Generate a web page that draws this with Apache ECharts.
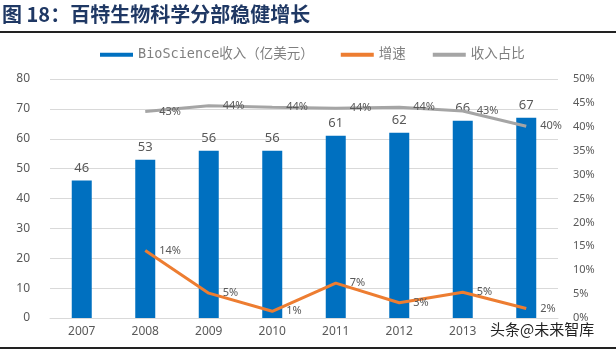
<!DOCTYPE html>
<html>
<head>
<meta charset="utf-8">
<script src="https://cdn.jsdelivr.net/npm/echarts@6/dist/echarts.min.js"></script>
<style>
  html, body { margin: 0; padding: 0; background: #fff; }
  #chart { width: 616px; height: 351px; }
</style>
</head>
<body>
<div id="chart"></div>
<script>
// 年份
const years = ['2007', '2008', '2009', '2010', '2011', '2012', '2013', '2014']
// BioScience收入（亿美元）
const revenue = [46, 53, 56, 56, 61, 62, 66, 67]
// 增速 (%)
const growth = [null, 14.1, 5.2, 1.4, 7.3, 3.2, 5.4, 2.0]
// 收入占比 (%)
const share = [null, 43.2, 44.4, 44.1, 43.9, 44.1, 43.3, 40.1]

const leftTicks = [0, 10, 20, 30, 40, 50, 60, 70, 80]
const rightTicks = [0, 5, 10, 15, 20, 25, 30, 35, 40, 45, 50]

const textGray = '#595959'
const font = "'Noto Sans', 'Noto Sans CJK SC', sans-serif"

const myChart = echarts.init(document.getElementById('chart'))

// 折线数据标签
function pctLabel() {
    return {
        show: true,
        position: 'right',
        distance: 14,
        color: textGray,
        fontSize: 11,
        formatter: function (p) {
            return Math.round(p.value) + '%'
        }
    }
}

const option = {
    animation: false,
    textStyle: {fontFamily: font},
    graphic: [
        {
            type: 'text',
            left: 2,
            top: 4,
            style: {
                text: '图 18：百特生物科学分部稳健增长',
                fontSize: 20,
                fontWeight: 'bold',
                fill: '#1F3864',
                fontFamily: "'Noto Sans CJK SC', sans-serif"
            }
        },
        {
            type: 'rect',
            shape: {x: 0, y: 31, width: 616, height: 2},
            style: {fill: '#222'}
        },
        {
            type: 'rect',
            shape: {x: 0, y: 347, width: 616, height: 2},
            style: {fill: '#222'}
        },
        {
            type: 'text',
            left: 490,
            top: 322,
            style: {
                text: '头条@未来智库',
                fontSize: 15,
                fill: '#222',
                fontFamily: "'Noto Sans CJK SC', sans-serif"
            }
        }
    ],
    legend: {
        top: 43,
        left: 95,
        icon: 'rect',
        itemWidth: 33,
        itemHeight: 4,
        itemGap: 27,
        textStyle: {color: '#7F7F7F', fontSize: 13.5, fontFamily: "'DejaVu Sans Mono', 'Noto Sans CJK SC', monospace"},
        data: ['BioScience收入（亿美元）', '增速', '收入占比']
    },
    grid: {
        left: 50,
        right: 58,
        top: 79,
        bottom: 33,
        containLabel: false
    },
    xAxis: {
        type: 'category',
        data: years,
        axisLine: {lineStyle: {color: '#D9D9D9'}},
        axisTick: {show: false},
        axisLabel: {
            color: textGray,
            fontSize: 12,
            margin: 8,
            interval: function (i) {
                return i < 7
            }
        }
    },
    yAxis: [
        {
            type: 'value',
            min: leftTicks[0],
            max: leftTicks[leftTicks.length - 1],
            interval: 10,
            axisLine: {show: false},
            axisTick: {show: false},
            axisLabel: {color: textGray, fontSize: 12, margin: 20},
            splitLine: {lineStyle: {color: '#D9D9D9'}}
        },
        {
            type: 'value',
            min: rightTicks[0],
            max: rightTicks[rightTicks.length - 1],
            interval: 5,
            axisLine: {show: false},
            axisTick: {show: false},
            axisLabel: {color: textGray, fontSize: 11, margin: 15, formatter: '{value}%'},
            splitLine: {show: false}
        }
    ],
    series: [
        {
            name: 'BioScience收入（亿美元）',
            type: 'bar',
            data: revenue,
            barWidth: 20,
            itemStyle: {color: '#0070C0'},
            label: {
                show: true,
                position: 'top',
                distance: 6,
                color: textGray,
                fontSize: 13
            }
        },
        {
            name: '增速',
            type: 'line',
            yAxisIndex: 1,
            z: 3,
            data: growth,
            symbol: 'circle',
            symbolSize: 0,
            showSymbol: true,
            lineStyle: {color: '#ED7D31', width: 3},
            itemStyle: {color: '#ED7D31'},
            label: pctLabel()
        },
        {
            name: '收入占比',
            type: 'line',
            yAxisIndex: 1,
            z: 3,
            data: share,
            symbol: 'circle',
            symbolSize: 0,
            showSymbol: true,
            lineStyle: {color: '#A5A5A5', width: 3},
            itemStyle: {color: '#A5A5A5'},
            label: pctLabel()
        }
    ]
}

myChart.setOption(option)
</script>
</body>
</html>
